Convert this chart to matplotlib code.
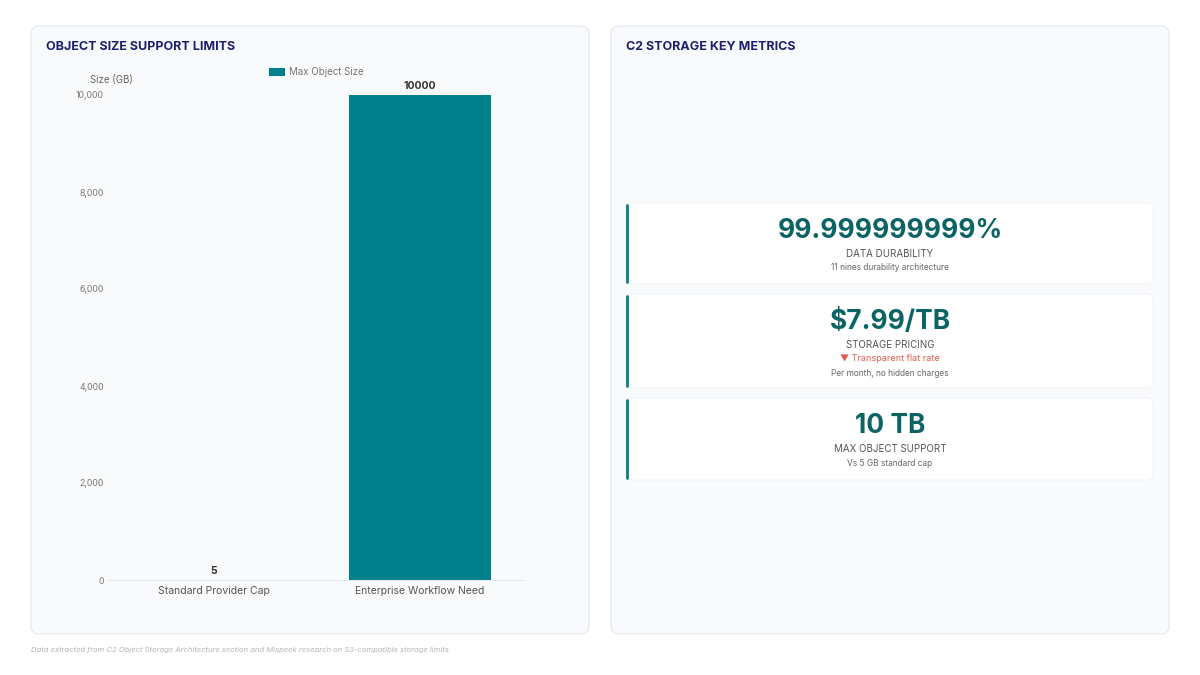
import matplotlib
matplotlib.use("Agg")
import matplotlib.pyplot as plt
from matplotlib.patches import FancyBboxPatch
from matplotlib.ticker import FuncFormatter

plt.rcParams["font.family"] = ["Inter", "DejaVu Sans"]

# === Data ===
categories = ["Standard Provider Cap", "Enterprise Workflow Need"]
max_object_size = [5, 10000]
series_name = "Max Object Size"
y_ticks = [0, 2000, 4000, 6000, 8000, 10000]

metric_values = ["99.999999999%", "$7.99/TB", "10 TB"]
metric_labels = ["DATA DURABILITY", "STORAGE PRICING", "MAX OBJECT SUPPORT"]
metric_trends = [None, "▼ Transparent flat rate", None]
metric_notes = ["11 nines durability architecture", "Per month, no hidden charges", "Vs 5 GB standard cap"]

footnote = "Data extracted from C2 Object Storage Architecture section and Mixpeek research on S3-compatible storage limits."

# Colours
TEAL = "#00808a"
VALUE_TEAL = "#0b6463"
NAVY = "#1c1f6e"
CARD_BG = "#f8fafc"
CARD_EDGE = "#e3e8ee"

W, H = 1200, 675
fig = plt.figure(figsize=(12, 6.75), dpi=100)
fig.patch.set_facecolor("white")


def px(x, y):
    # pixel (top-left origin) -> figure fraction
    return x / W, 1 - y / H


def card(x0, y0, x1, y1, fc=CARD_BG, ec=CARD_EDGE, r=8, lw=0.8, z=0):
    fx0, fy1 = px(x0, y0)
    fx1, fy0 = px(x1, y1)
    p = FancyBboxPatch((fx0, fy0), fx1 - fx0, fy1 - fy0,
                       boxstyle=f"round,pad=0,rounding_size={r / W}",
                       transform=fig.transFigure, fc=fc, ec=ec, lw=lw, zorder=z,
                       mutation_aspect=W / H)
    fig.add_artist(p)


# --- panels ---
card(31, 26, 589, 634)
card(611, 26, 1169, 634)

fig.text(*px(46, 47), "OBJECT SIZE SUPPORT LIMITS", fontsize=9, fontweight="bold",
         color=NAVY, va="center", ha="left")
fig.text(*px(626, 47), "C2 STORAGE KEY METRICS", fontsize=9, fontweight="bold",
         color=NAVY, va="center", ha="left")

# --- bar chart ---
ax_l, ax_t = px(108, 95)
ax_r, ax_b = px(525, 580)
ax = fig.add_axes([ax_l, ax_b, ax_r - ax_l, ax_t - ax_b])
ax.set_facecolor("none")
xs = range(len(categories))
bars = ax.bar(xs, max_object_size, width=0.69, color=TEAL, label=series_name, zorder=2)
ax.set_xlim(-0.515, 1.51)
ax.set_ylim(0, 10000)
ax.set_yticks(y_ticks)
ax.yaxis.set_major_formatter(FuncFormatter(lambda v, _: f"{int(v):,}"))
ax.set_xticks(list(xs))
ax.set_xticklabels(categories)
ax.tick_params(axis="y", length=0, labelsize=6.3, labelcolor="#777777", pad=3)
ax.tick_params(axis="x", length=0, labelsize=7.5, labelcolor="#555555", pad=4)
for s in ["top", "right", "left"]:
    ax.spines[s].set_visible(False)
ax.spines["bottom"].set_color("#e6e9ec")
ax.spines["bottom"].set_linewidth(0.8)
for b, v in zip(bars, max_object_size):
    ax.annotate(f"{v}", (b.get_x() + b.get_width() / 2, v), xytext=(0, 3),
                textcoords="offset points", ha="center", va="bottom",
                fontsize=7.5, fontweight="bold", color="#333333")
fig.text(*px(111, 80), "Size (GB)", fontsize=7, color="#666666", ha="center", va="center")

leg = ax.legend(loc="upper center", bbox_to_anchor=(0.5, 1.075), frameon=False,
                fontsize=7, handlelength=1.6, handleheight=0.9, handletextpad=0.4,
                labelcolor="#777777")

# --- metric cards ---
card_rows = [(203, 284), (294, 388), (398, 480)]
for i, (top, bot) in enumerate(card_rows):
    card(626, top, 1153, bot, fc="white", ec="#eef1f4", r=6, lw=0.6, z=1)
    # teal accent on left edge
    fig.add_artist(plt.Line2D([px(627, 0)[0]] * 2, [px(0, top + 2)[1], px(0, bot - 2)[1]],
                              transform=fig.transFigure, color=TEAL, lw=2, zorder=2,
                              solid_capstyle="round"))
    cx = 890
    y = top + 28
    fig.text(*px(cx, y), metric_values[i], fontsize=19, fontweight="bold",
             color=VALUE_TEAL, ha="center", va="center", zorder=3)
    y += 23
    fig.text(*px(cx, y), metric_labels[i], fontsize=7, color="#555555",
             ha="center", va="center", zorder=3)
    y += 14
    if metric_trends[i]:
        fig.text(*px(cx, y), metric_trends[i], fontsize=6.5, color="#e05a47",
                 ha="center", va="center", zorder=3)
        y += 14
    fig.text(*px(cx, y), metric_notes[i], fontsize=6, color="#666666",
             ha="center", va="center", zorder=3)

fig.text(*px(31, 650), footnote, fontsize=5.5, style="italic", color="#b0b5ba",
         ha="left", va="center")

fig.savefig("out.png", dpi=100, facecolor="white")
